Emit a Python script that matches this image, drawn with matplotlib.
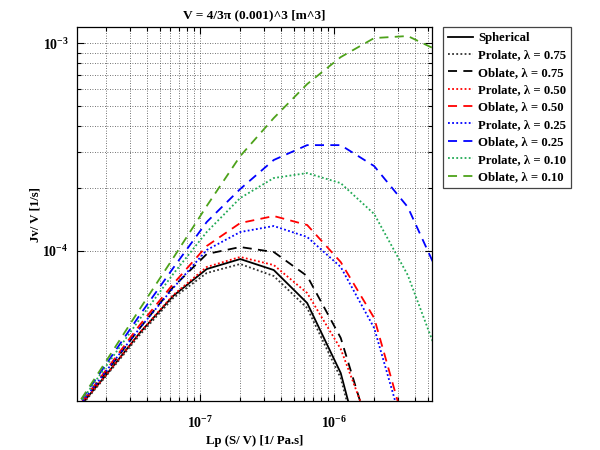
import numpy as np
import matplotlib as mpl
mpl.use('agg')
import matplotlib.pyplot as plt
from matplotlib.ticker import FixedLocator, NullFormatter, LogLocator

plt.rcParams['font.family'] = ['Liberation Serif', 'DejaVu Serif']
plt.rcParams['font.weight'] = 'bold'
plt.rcParams['mathtext.fontset'] = 'custom'
plt.rcParams['mathtext.rm'] = 'Liberation Serif:bold'
plt.rcParams['mathtext.it'] = 'Liberation Serif:bold'
plt.rcParams['mathtext.bf'] = 'Liberation Serif:bold'

##--##--  data  --##--##
lp = [1.125e-8, 2e-8, 3.56e-8, 6.32e-8, 1.125e-7, 2e-7, 3.56e-7, 6.32e-7,
      1.125e-6, 2e-6, 3.56e-6, 6.32e-6]

spherical   = [1.63e-5, 2.54e-5, 4.04e-5, 6.08e-5, 8.19e-5, 9.15e-5, 8.10e-5, 5.62e-5, 2.59e-5, 6.35e-6]
prolate_075 = [1.61e-5, 2.51e-5, 3.95e-5, 5.94e-5, 7.84e-5, 8.66e-5, 7.58e-5, 5.32e-5, 2.45e-5, 6.01e-6]
oblate_075  = [1.65e-5, 2.62e-5, 4.26e-5, 6.71e-5, 9.67e-5, 1.045e-4, 9.89e-5, 7.58e-5, 3.82e-5, 1.14e-5]
prolate_050 = [1.63e-5, 2.54e-5, 4.04e-5, 6.14e-5, 8.38e-5, 9.36e-5, 8.56e-5, 6.28e-5, 3.38e-5, 1.26e-5]
oblate_050  = [1.645e-5, 2.68e-5, 4.41e-5, 6.94e-5, 1.057e-4, 1.363e-4, 1.473e-4, 1.334e-4, 8.85e-5, 4.76e-5, 1.28e-5]
prolate_025 = [1.645e-5, 2.65e-5, 4.26e-5, 6.64e-5, 1.011e-4, 1.234e-4, 1.319e-4, 1.168e-4, 8.38e-5, 4.26e-5, 1.17e-5]
oblate_025  = [1.68e-5, 2.86e-5, 4.92e-5, 8.28e-5, 1.379e-4, 1.987e-4, 2.74e-4, 3.23e-4, 3.23e-4, 2.56e-4, 1.627e-4, 7.25e-5]
prolate_010 = [1.66e-5, 2.80e-5, 4.71e-5, 7.75e-5, 1.234e-4, 1.798e-4, 2.244e-4, 2.37e-4, 2.12e-4, 1.506e-4, 7.66e-5, 2.86e-5]
oblate_010  = [1.68e-5, 2.96e-5, 5.26e-5, 9.25e-5, 1.646e-4, 2.86e-4, 4.36e-4, 6.35e-4, 8.56e-4, 1.057e-3, 1.081e-3, 9.05e-4]

labels = ['Spherical',
          'Prolate, λ = 0.75', 'Oblate, λ = 0.75',
          'Prolate, λ = 0.50', 'Oblate, λ = 0.50',
          'Prolate, λ = 0.25', 'Oblate, λ = 0.25',
          'Prolate, λ = 0.10', 'Oblate, λ = 0.10']


##--##--  figure  --##--##
fig = plt.figure(figsize=(6, 4.5), dpi=100)
ax = fig.add_axes([0.1283, 0.1089, 0.5917, 0.831])

dash = (0, (5, 3.5))
dot = (0, (1, 1.3))
ax.plot(lp[:len(spherical)], spherical, color='k', lw=1.3, ls='-', label=labels[0])
ax.plot(lp[:len(prolate_075)], prolate_075, color='#333333', lw=1.3, ls=dot, label=labels[1])
ax.plot(lp[:len(oblate_075)], oblate_075, color='k', lw=1.3, ls=dash, label=labels[2])
ax.plot(lp[:len(prolate_050)], prolate_050, color='r', lw=1.3, ls=dot, label=labels[3])
ax.plot(lp[:len(oblate_050)], oblate_050, color='r', lw=1.3, ls=dash, label=labels[4])
ax.plot(lp[:len(prolate_025)], prolate_025, color='b', lw=1.3, ls=dot, label=labels[5])
ax.plot(lp[:len(oblate_025)], oblate_025, color='b', lw=1.3, ls=dash, label=labels[6])
ax.plot(lp[:len(prolate_010)], prolate_010, color='#22aa55', lw=1.3, ls=dot, label=labels[7])
ax.plot(lp[:len(oblate_010)], oblate_010, color='#4da21a', lw=1.3, ls=dash, label=labels[8])

ax.set_xscale('log')
ax.set_yscale('log')
ax.set_xlim(1.21e-8, 5.4e-6)
ax.set_ylim(1.90e-5, 1.194e-3)

ax.xaxis.set_major_locator(FixedLocator([1e-7, 1e-6]))
ax.xaxis.set_minor_locator(LogLocator(base=10, subs=np.arange(2, 10), numticks=20))
ax.yaxis.set_major_locator(FixedLocator([1e-4, 1e-3]))
ax.yaxis.set_minor_locator(FixedLocator([2e-4, 3e-4, 4e-4, 5e-4, 6e-4, 7e-4, 8e-4, 9e-4]))
ax.xaxis.set_minor_formatter(NullFormatter())
ax.yaxis.set_minor_formatter(NullFormatter())

ax.grid(True, which='both', color='#444444', lw=0.6, ls=(0, (1, 2)))
ax.tick_params(which='both', direction='in', top=True, right=True, width=0.8)
ax.tick_params(which='major', length=5, labelsize=10, pad=6)
ax.tick_params(axis='x', which='major', pad=10)
ax.tick_params(which='minor', length=3)
for s in ax.spines.values():
    s.set_linewidth(0.9)

ax.set_title('V = 4/3π (0.001)^3 [m^3]', size=9.6, weight='bold', pad=6)
ax.set_xlabel('Lp (S/ V) [1/ Pa.s]', size=9.2, weight='bold', labelpad=3)
ax.set_ylabel('Jv/ V [1/s]', size=9.2, weight='bold', labelpad=1)

leg = ax.legend(loc='upper left', bbox_to_anchor=(443 / 600, 1 - 27 / 450),
                bbox_transform=fig.transFigure, borderaxespad=0, fancybox=False,
                edgecolor='#444444', framealpha=1, fontsize=9.2, handlelength=1.95,
                labelspacing=0.42, handletextpad=0.4, borderpad=0.4)
leg.get_frame().set_linewidth(0.9)

fig.savefig('out.png', dpi=100)
